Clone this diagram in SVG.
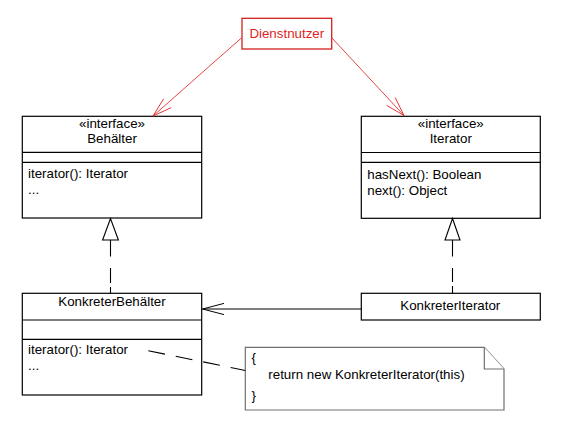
<svg xmlns="http://www.w3.org/2000/svg" width="568" height="422" viewBox="0 0 568 422">
<defs>
<style>
text{font-family:"Liberation Sans",Arial,sans-serif;font-size:13.33px;fill:#000}
.box{fill:#fff;stroke:#000;stroke-width:1.2}
.sep{stroke:#000;stroke-width:1.2}
.c{text-anchor:middle}
.red{fill:#dd1f1f}
.redbox{fill:#fff;stroke:#d42020;stroke-width:1.3}
.redline{fill:none;stroke:#e23030;stroke-width:0.9}
.line{fill:none;stroke:#000;stroke-width:1.1}
.note{fill:#fff;stroke:#707070;stroke-width:1.2}
</style>
<marker id="openRed" viewBox="-21 -7 22 14" markerWidth="22" markerHeight="14" refX="0" refY="0" orient="auto" markerUnits="userSpaceOnUse">
<path d="M-19.2,-5.8 L0,0 L-19.2,5.8" fill="none" stroke="#e23030" stroke-width="0.9"/>
</marker>
<marker id="openBlack" viewBox="-23 -7 24 14" markerWidth="24" markerHeight="14" refX="0" refY="0" orient="auto" markerUnits="userSpaceOnUse">
<path d="M-21.5,-5.6 L0,0 L-21.5,5.6" fill="none" stroke="#000" stroke-width="1"/>
</marker>
</defs>
<rect width="568" height="422" fill="#fff"/>

<g id="dienstnutzer">
<rect class="redbox" x="242" y="18.3" width="89.7" height="30.7"/>
<text class="c red" x="286.8" y="38">Dienstnutzer</text>
</g>

<g id="behaelter">
<rect class="box" x="22.3" y="116.3" width="179.4" height="101.7"/>
<line class="sep" x1="22.3" y1="152.3" x2="201.7" y2="152.3"/>
<line class="sep" x1="22.3" y1="162.3" x2="201.7" y2="162.3"/>
<text class="c" x="112" y="127.5">«interface»</text>
<text class="c" x="112" y="142.7">Behälter</text>
<text x="28" y="178.3">iterator(): Iterator</text>
<text x="28" y="194.3">...</text>
</g>

<g id="iterator">
<rect class="box" x="361.3" y="116.3" width="179" height="102"/>
<line class="sep" x1="361.3" y1="152.5" x2="540.3" y2="152.5"/>
<line class="sep" x1="361.3" y1="162.3" x2="540.3" y2="162.3"/>
<text class="c" x="450.8" y="127.5">«interface»</text>
<text class="c" x="450.8" y="142.7">Iterator</text>
<text x="367.3" y="179">hasNext(): Boolean</text>
<text x="367.3" y="195">next(): Object</text>
</g>

<g id="konkreterBehaelter">
<rect class="box" x="22.3" y="293.3" width="179.4" height="101.7"/>
<line class="sep" x1="22.3" y1="320" x2="201.7" y2="320"/>
<line class="sep" x1="22.3" y1="339.3" x2="201.7" y2="339.3"/>
<text class="c" x="112" y="306">KonkreterBehälter</text>
<text x="28" y="353.5">iterator(): Iterator</text>
<text x="28" y="369.5">...</text>
</g>

<g id="konkreterIterator">
<rect class="box" x="361.3" y="293.3" width="179" height="26.7"/>
<text class="c" x="450.3" y="310.3">KonkreterIterator</text>
</g>

<g id="note">
<path class="note" d="M245.3,347.3 H484.3 L504,369 V410 H245.3 Z"/>
<path class="note" d="M484.3,347.3 V369 H504" fill="none"/>
<text x="251.5" y="362">{</text>
<text x="268.3" y="379.3">return new KonkreterIterator(this)</text>
<text x="251.5" y="399.5">}</text>
</g>

<g id="connectors">
<path class="redline" d="M241.7,37.7 L153,116" marker-end="url(#openRed)"/>
<path class="redline" d="M331.7,37.7 L404,115.5" marker-end="url(#openRed)"/>
<path class="line" d="M110.5,240 V256.5 M110.5,268 V283 M110.5,287 V293.3"/>
<polygon class="line" points="110.5,218.5 102.6,240 118.4,240"/>
<path class="line" d="M452.5,240 V256.5 M452.5,268 V282 M452.5,286 V293.3"/>
<polygon class="line" points="452.5,218.5 445,240 460,240"/>
<path class="line" d="M361.3,309 L202.5,309" marker-end="url(#openBlack)"/>
<path class="line" d="M148.3,350.7 L245.3,370.5" stroke-dasharray="17,11"/>
</g>
</svg>
